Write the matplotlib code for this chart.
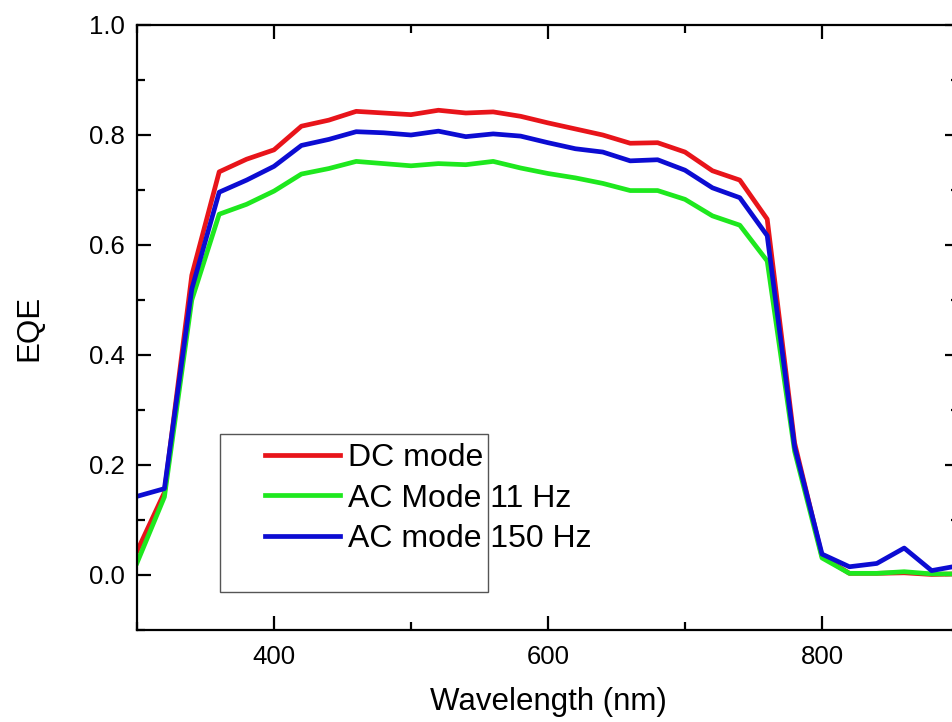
#!/usr/bin/env python

import numpy as np
from matplotlib import pyplot as plt
from matplotlib.ticker import MultipleLocator
from matplotlib.patches import Rectangle

plt.rcParams['font.family'] = ['Liberation Sans', 'DejaVu Sans']

# wavelength grid (nm) and EQE
wavelength = [300, 320, 340, 360, 380, 400, 420, 440, 460, 480, 500, 520, 540,
              560, 580, 600, 620, 640, 660, 680, 700, 720, 740, 760, 780, 800,
              820, 840, 860, 880, 900]

eqe_dc = [0.043, 0.150, 0.545, 0.733, 0.756, 0.773, 0.816, 0.827, 0.843, 0.840,
          0.837, 0.845, 0.840, 0.842, 0.834, 0.822, 0.811, 0.800, 0.785, 0.786,
          0.769, 0.735, 0.718, 0.647, 0.240, 0.034, 0.003, 0.003, 0.004, 0.001,
          0.002]

eqe_ac11 = [0.022, 0.142, 0.500, 0.656, 0.674, 0.698, 0.729, 0.739, 0.752, 0.748,
            0.744, 0.748, 0.746, 0.752, 0.740, 0.730, 0.722, 0.712, 0.699, 0.699,
            0.683, 0.653, 0.636, 0.571, 0.225, 0.031, 0.003, 0.003, 0.006, 0.002,
            0.002]

eqe_ac150 = [0.143, 0.157, 0.520, 0.696, 0.718, 0.743, 0.781, 0.792, 0.806, 0.804,
             0.800, 0.807, 0.797, 0.802, 0.798, 0.786, 0.775, 0.769, 0.753, 0.755,
             0.736, 0.704, 0.686, 0.617, 0.233, 0.038, 0.015, 0.021, 0.049, 0.008,
             0.017]

labels = ['DC mode', 'AC Mode 11 Hz', 'AC mode 150 Hz']
colors = ['#e8141a', '#1ee81e', '#0c0cd2']

fig = plt.figure(figsize=(9.52, 7.22), dpi=100)
# axes run slightly past the right edge of the figure, as in the reference
ax = fig.add_axes([137/952, 92/722, 822/952, 605/722])

for data, lab, col in zip([eqe_dc, eqe_ac11, eqe_ac150], labels, colors):
    ax.plot(wavelength, data, color=col, lw=3.4, label=lab)

ax.set_xlim(300, 900)
ax.set_ylim(-0.1, 1.0)

ax.xaxis.set_major_locator(MultipleLocator(200))
ax.xaxis.set_minor_locator(MultipleLocator(100))
ax.yaxis.set_major_locator(MultipleLocator(0.2))
ax.yaxis.set_minor_locator(MultipleLocator(0.1))
ax.yaxis.set_major_formatter(plt.FormatStrFormatter('%.1f'))

ax.tick_params(which='both', direction='in', top=True, right=True, width=1.6,
               labelsize=18.5)
ax.tick_params(which='major', length=10)
ax.tick_params(which='minor', length=5.5)
ax.tick_params(axis='x', pad=11)
ax.tick_params(axis='y', pad=9)

for sp in ax.spines.values():
    sp.set_linewidth(1.6)

ax.set_xlabel('Wavelength (nm)', fontsize=22.5, labelpad=13)
ax.set_ylabel('EQE', fontsize=22.5, labelpad=32)

# legend frame is a bit larger than its entries
ax.add_patch(Rectangle((83/822, 38/605), 268/822, 158/605, transform=ax.transAxes,
                       fill=False, edgecolor='#555555', lw=1.0, zorder=4))
ax.legend(loc='upper left', bbox_to_anchor=(128/822, 187/605), fontsize=23,
          frameon=False, handlelength=2.35, handletextpad=0.25, borderpad=0,
          labelspacing=0.33, borderaxespad=0)

plt.savefig('out.png', dpi=100)
plt.close()
